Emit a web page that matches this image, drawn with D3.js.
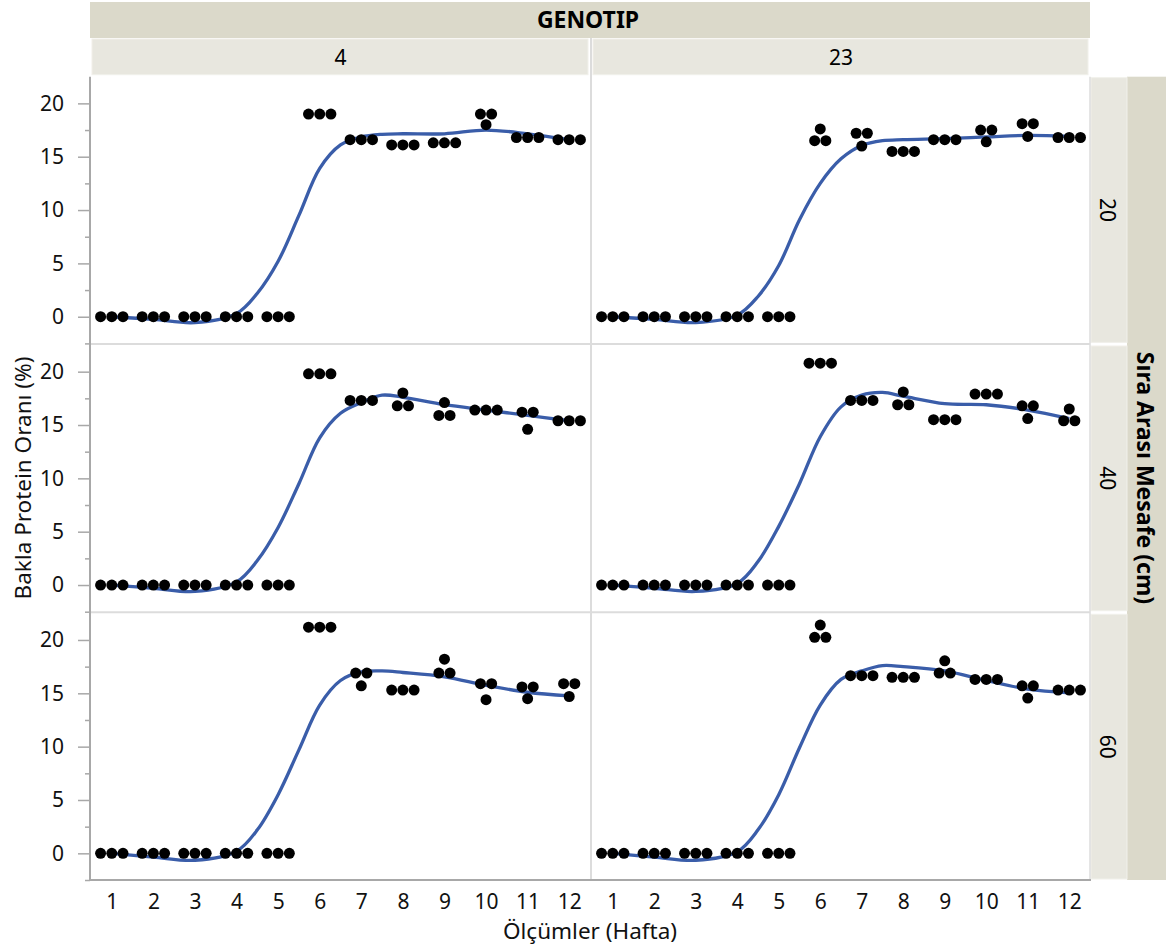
<!DOCTYPE html>
<html>
<head>
<meta charset="utf-8">
<script src="https://cdn.jsdelivr.net/npm/d3@7"></script>
<style>
body { margin: 0; background: #fff; }
text { font-family: "Noto Sans", sans-serif; }
</style>
</head>
<body>
<div id="chart"></div>
<script>
// categories
var weeks = [1, 2, 3, 4, 5, 6, 7, 8, 9, 10, 11, 12];
var genotypes = ["4", "23"];
var spacings = ["20", "40", "60"];

// protein ratio (%), three replicates per week
var g4_s20 = [[0,0,0],[0,0,0],[0,0,0],[0,0,0],[0,0,0],[19,19,19],[16.6,16.6,16.6],[16.1,16.1,16.1],[16.3,16.3,16.3],[19,19,18],[16.8,16.8,16.8],[16.6,16.6,16.6]];
var g23_s20 = [[0,0,0],[0,0,0],[0,0,0],[0,0,0],[0,0,0],[17.6,16.5,16.5],[17.2,17.2,16.0],[15.5,15.5,15.5],[16.6,16.6,16.6],[17.5,17.5,16.4],[18.1,18.1,16.9],[16.8,16.8,16.8]];
var g4_s40 = [[0,0,0],[0,0,0],[0,0,0],[0,0,0],[0,0,0],[19.8,19.8,19.8],[17.3,17.3,17.3],[18.0,16.8,16.8],[17.1,15.9,15.9],[16.4,16.4,16.4],[16.2,16.2,14.6],[15.4,15.4,15.4]];
var g23_s40 = [[0,0,0],[0,0,0],[0,0,0],[0,0,0],[0,0,0],[20.8,20.8,20.8],[17.3,17.3,17.3],[18.1,16.9,16.9],[15.5,15.5,15.5],[17.9,17.9,17.9],[16.8,16.8,15.6],[16.5,15.4,15.4]];
var g4_s60 = [[0,0,0],[0,0,0],[0,0,0],[0,0,0],[0,0,0],[21.2,21.2,21.2],[16.9,16.9,15.7],[15.3,15.3,15.3],[18.2,16.9,16.9],[15.9,15.9,14.4],[15.6,15.6,14.5],[15.9,15.9,14.7]];
var g23_s60 = [[0,0,0],[0,0,0],[0,0,0],[0,0,0],[0,0,0],[21.4,20.25,20.25],[16.65,16.65,16.65],[16.5,16.5,16.5],[18.05,16.9,16.9],[16.3,16.3,16.3],[15.7,15.7,14.55],[15.3,15.3,15.3]];

// smoother curve, read at these weeks
var fitWeeks = [1, 2, 3, 4, 4.5, 5, 5.5, 6, 6.5, 7, 7.5, 8, 9, 10, 11, 12];
var fit_g4_s20 = [0, -0.25, -0.55, 0.3, 2.2, 5.2, 9.5, 13.9, 16.1, 16.85, 17.1, 17.15, 17.15, 17.5, 17.15, 16.6];
var fit_g23_s20 = [0, -0.25, -0.55, 0.15, 1.9, 4.8, 9.1, 12.5, 14.8, 16.05, 16.5, 16.6, 16.7, 16.85, 17.0, 16.9];
var fit_g4_s40 = [0, -0.3, -0.6, 0.3, 2.3, 5.4, 9.5, 13.8, 16.1, 17.1, 17.8, 17.6, 16.9, 16.4, 15.9, 15.4];
var fit_g23_s40 = [0, -0.3, -0.6, 0.15, 2.2, 5.5, 9.5, 13.9, 16.7, 17.8, 18.05, 17.7, 17.0, 16.9, 16.4, 15.6];
var fit_g4_s60 = [0, -0.35, -0.65, 0.2, 2.2, 5.5, 9.7, 13.9, 16.2, 17.0, 17.1, 16.95, 16.55, 15.75, 15.1, 14.75];
var fit_g23_s60 = [0, -0.35, -0.65, 0.15, 2.2, 5.5, 9.9, 13.9, 16.3, 17.1, 17.6, 17.5, 17.1, 16.2, 15.4, 15.05];

var points = [[g4_s20, g23_s20], [g4_s40, g23_s40], [g4_s60, g23_s60]];
var fits = [[fit_g4_s20, fit_g23_s20], [fit_g4_s40, fit_g23_s40], [fit_g4_s60, fit_g23_s60]];

var W = 1166, H = 949;
var colX = [[91, 590], [592, 1090]];
var rowTop = [76.7, 345, 613.3], rowH = 266.7;
var stripTop = 2, stripMid = 38;

var svg = d3.select("#chart").append("svg")
    .attr("width", W).attr("height", H);

// header strips
svg.append("rect").attr("x", 90).attr("y", stripTop).attr("width", 1000).attr("height", stripMid - stripTop)
    .attr("fill", "#dbd9ca");
svg.append("text").attr("x", 588).attr("y", 28).attr("text-anchor", "middle")
    .style("font-weight", "bold").style("font-size", "23px").text("GENOTIP");

genotypes.forEach(function(g, c) {
    svg.append("rect").attr("x", colX[c][0] + 1).attr("y", stripMid + 1)
        .attr("width", colX[c][1] - colX[c][0] - 3).attr("height", rowTop[0] - stripMid - 3)
        .attr("fill", "#e8e7df").attr("stroke", "#f1f0ea").attr("stroke-width", 1);
    svg.append("text").attr("x", (colX[c][0] + colX[c][1]) / 2).attr("y", 65)
        .attr("text-anchor", "middle").style("font-size", "21px").text(g);
});

// right strips
svg.append("rect").attr("x", 1127).attr("y", rowTop[0]).attr("width", 39).attr("height", 880 - rowTop[0])
    .attr("fill", "#dbd9ca");
spacings.forEach(function(s, r) {
    svg.append("rect").attr("x", 1091).attr("y", rowTop[r] + 1).attr("width", 36).attr("height", rowH - 2)
        .attr("fill", "#e8e7df").attr("stroke", "#f1f0ea").attr("stroke-width", 1);
    var cy = rowTop[r] + rowH / 2;
    svg.append("text").attr("transform", "translate(1100," + cy + ") rotate(90)")
        .attr("text-anchor", "middle").style("font-size", "21px").text(s);
});
svg.append("text").attr("transform", "translate(1137,478) rotate(90)")
    .attr("text-anchor", "middle").style("font-weight", "bold").style("font-size", "23px")
    .text("Sıra Arası Mesafe (cm)");

// panel frames
svg.append("line").attr("x1", 591).attr("x2", 591).attr("y1", stripMid).attr("y2", 880)
    .attr("stroke", "#dcdcdc").attr("stroke-width", 2);
[344, 612.3].forEach(function(yy) {
    svg.append("line").attr("x1", 90).attr("x2", 1090).attr("y1", yy).attr("y2", yy)
        .attr("stroke", "#dcdcdc").attr("stroke-width", 2);
});
svg.append("line").attr("x1", 1090).attr("x2", 1090).attr("y1", rowTop[0]).attr("y2", 880)
    .attr("stroke", "#dcdcdc").attr("stroke-width", 1.5);

var line = d3.line().curve(d3.curveCatmullRom.alpha(0.5));

spacings.forEach(function(s, r) {
    var y = d3.scaleLinear().domain([-2.5, 22.5]).range([rowTop[r] + rowH, rowTop[r]]);

    // y axis (left column only)
    var ax = svg.append("g").attr("transform", "translate(90,0)");
    ax.call(d3.axisLeft(y).tickValues([0, 5, 10, 15, 20]).tickSize(12).tickPadding(14).tickSizeOuter(0));
    ax.append("g").call(d3.axisLeft(y).tickValues([-2.5, 2.5, 7.5, 12.5, 17.5]).tickSize(5).tickFormat("").tickSizeOuter(0));
    ax.selectAll(".domain").remove();
    ax.selectAll("line").attr("stroke", "#a8a8a8").attr("stroke-width", 1.5);
    ax.selectAll("text").style("font-size", "21px").attr("fill", "#111").style("font-family", "'Noto Sans', sans-serif");

    genotypes.forEach(function(g, c) {
        var x = d3.scaleLinear().domain([0.5, 12.5]).range(colX[c]);
        var panel = svg.append("g");

        var fit = fits[r][c];
        panel.append("path")
            .attr("d", line(fitWeeks.map(function(w, i) { return [x(w), y(fit[i])]; })))
            .attr("fill", "none").attr("stroke", "#3a5da9").attr("stroke-width", 3.3);

        var data = points[r][c];
        weeks.forEach(function(w, i) {
            var nodes = data[i].map(function(v, k) {
                return { v: v, x: x(w) + (k - 1) * 2, fy: y(v) };
            });
            var sim = d3.forceSimulation(nodes)
                .force("x", d3.forceX(x(w)).strength(0.12))
                .force("c", d3.forceCollide(5.6).iterations(4))
                .stop();
            for (var t = 0; t < 300; t++) sim.tick();
            panel.selectAll(null).data(nodes).enter().append("circle")
                .attr("cx", function(d) { return d.x; })
                .attr("cy", function(d) { return d.fy; })
                .attr("r", 5.5)
                .attr("fill", "#000");
        });

        if (r === 2) {
            var bx = svg.append("g").attr("transform", "translate(0,880)");
            bx.call(d3.axisBottom(x).tickValues(weeks).tickSize(0).tickPadding(14).tickSizeOuter(0));
            bx.selectAll(".domain").remove();
            bx.selectAll("text").style("font-size", "21px").attr("fill", "#111").style("font-family", "'Noto Sans', sans-serif");
        }
    });
});

// axis lines
svg.append("line").attr("x1", 90).attr("x2", 90).attr("y1", rowTop[0]).attr("y2", 881)
    .attr("stroke", "#a8a8a8").attr("stroke-width", 2);
svg.append("line").attr("x1", 89).attr("x2", 1091).attr("y1", 880).attr("y2", 880)
    .attr("stroke", "#a8a8a8").attr("stroke-width", 2);

// axis titles
svg.append("text").attr("x", 590).attr("y", 939).attr("text-anchor", "middle")
    .style("font-size", "22.5px").attr("fill", "#111").text("Ölçümler (Hafta)");
svg.append("text").attr("transform", "translate(31,478) rotate(-90)")
    .attr("text-anchor", "middle").style("font-size", "22.5px").attr("fill", "#111")
    .text("Bakla Protein Oranı (%)");
</script>
</body>
</html>
